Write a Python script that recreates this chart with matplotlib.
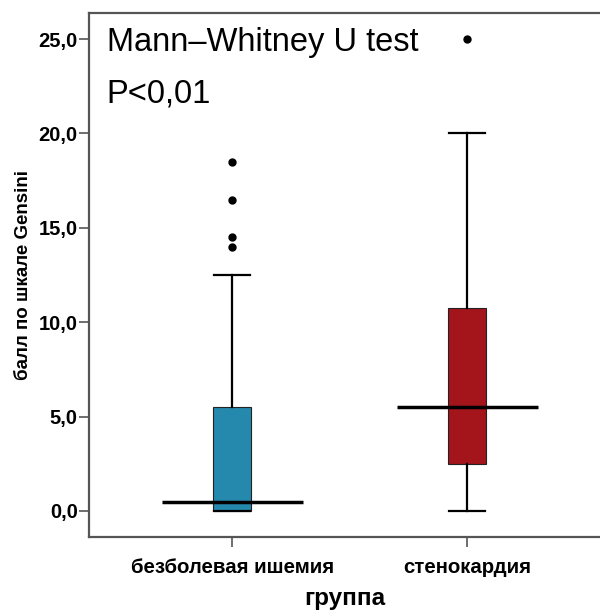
import matplotlib.pyplot as plt

# данные
groups = ['безболевая ишемия', 'стенокардия']
q1 = [0.0, 2.5]
medians = [0.5, 5.5]
q3 = [5.5, 10.75]
whisker_lo = [0.0, 0.0]
whisker_hi = [12.5, 20.0]
outliers = [[14.0, 14.5, 16.5, 18.5], [25.0]]
colors = ['#2588ad', '#a3141b']

plt.rcParams['font.family'] = ['Liberation Sans', 'DejaVu Sans']

fig = plt.figure(figsize=(6, 6.11), dpi=100)
ax = fig.add_axes([0.1483, 0.1211, 0.8517, 0.8576])

stats = []
for i in range(len(groups)):
    stats.append({'label': groups[i], 'q1': q1[i], 'med': medians[i], 'q3': q3[i],
                  'whislo': whisker_lo[i], 'whishi': whisker_hi[i], 'fliers': outliers[i]})

pos = [1, 2]
bp = ax.bxp(stats, positions=pos, widths=0.16, patch_artist=True,
            showfliers=True,
            boxprops=dict(linewidth=0.8, edgecolor='#222222'),
            whiskerprops=dict(linewidth=1.6, color='black'),
            capprops=dict(linewidth=1.6, color='black'),
            capwidths=0.155,
            medianprops=dict(visible=False),
            flierprops=dict(marker='o', markersize=5, markerfacecolor='black',
                            markeredgecolor='black'))
for patch, c in zip(bp['boxes'], colors):
    patch.set_facecolor(c)

# линия медианы шире ящика
ax.hlines(medians, [p - 0.30 for p in pos], [p + 0.30 for p in pos],
          colors='black', linewidth=2.5, zorder=5)

ax.set_xlim(0.391, 2.566)
ax.set_ylim(-1.38, 26.38)
ax.set_yticks([0, 5, 10, 15, 20, 25])
ax.set_yticklabels(['0,0', '5,0', '10,0', '15,0', '20,0', '25,0'])
ax.set_xticks(pos)
ax.set_xticklabels(groups)

for lab in ax.get_yticklabels():
    lab.set_fontsize(14.5)
    lab.set_fontweight('bold')
for lab in ax.get_xticklabels():
    lab.set_fontsize(14.7)
    lab.set_fontweight('bold')

ax.tick_params(axis='both', direction='out', length=7, width=1.2, color='#555555', pad=1)
ax.tick_params(axis='x', pad=8)
for s in ['left', 'top', 'bottom']:
    ax.spines[s].set_color('#555555')
    ax.spines[s].set_linewidth(1.6)
ax.spines['right'].set_visible(False)

ax.set_ylabel('балл по шкале Gensini', fontsize=13.5, fontweight='bold', labelpad=5)
ax.set_xlabel('группа', fontsize=17.5, fontweight='bold', labelpad=7)

ax.text(0.035, 0.944, 'Mann\u2013Whitney U test', transform=ax.transAxes,
        fontsize=23.5, va='center', ha='left')
ax.text(0.035, 0.846, 'P<0,01', transform=ax.transAxes,
        fontsize=23.5, va='center', ha='left')

fig.savefig('out.png', dpi=100)
